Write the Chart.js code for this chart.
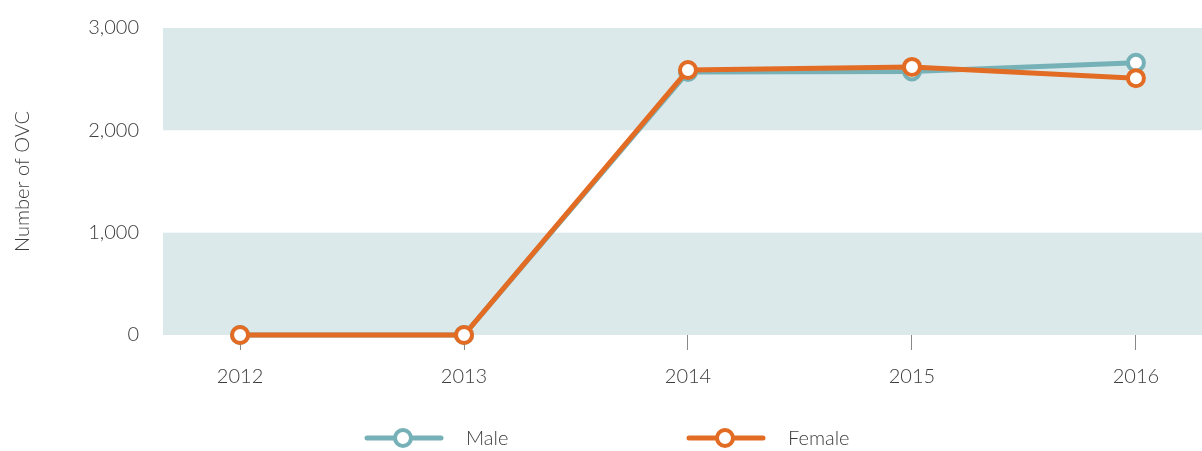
<!DOCTYPE html>
<html>
<head>
<meta charset="utf-8">
<script src="https://cdn.jsdelivr.net/npm/chart.js@4/dist/chart.umd.min.js"></script>
<style>
	html, body { margin: 0; padding: 0; background: #fff; }
	#wrap { width: 1202px; height: 451px; position: relative; }
</style>
</head>
<body>
<div id="wrap"><canvas id="ovcChart" width="1202" height="451"></canvas></div>
<script>
	const years = [2012, 2013, 2014, 2015, 2016];
	const maleValues = [0, 0, 2570, 2575, 2660];
	const femaleValues = [0, 0, 2590, 2620, 2510];
	const yTicks = [0, 1000, 2000, 3000];
	const seriesNames = ["Male", "Female"];

	const maleColor = "#76b1b8";
	const femaleColor = "#e36c24";
	const bandColor = "#dce9ea";
	const textColor = "#3c3c3c";
	const fontFamily = "Lato";

	// shaded bands 0-1000 and 2000-3000
	const bandsPlugin = {
		id: "bands",
		beforeDatasetsDraw(chart) {
			const { ctx, chartArea, scales } = chart;
			ctx.save();
			ctx.fillStyle = bandColor;
			for (let i = 0; i < yTicks.length - 1; i += 2) {
				const top = scales.y.getPixelForValue(yTicks[i + 1]);
				const bottom = scales.y.getPixelForValue(yTicks[i]);
				ctx.fillRect(chartArea.left, top, chartArea.right - chartArea.left, bottom - top);
			}
			ctx.restore();
		}
	};

	// legend drawn at the bottom
	const legendPlugin = {
		id: "bottomLegend",
		afterDraw(chart) {
			const { ctx } = chart;
			const items = [
				{ name: seriesNames[0], color: maleColor, x: 367 },
				{ name: seriesNames[1], color: femaleColor, x: 689 }
			];
			const y = 438;
			ctx.save();
			items.forEach(function (it) {
				ctx.strokeStyle = it.color;
				ctx.lineWidth = 5;
				ctx.lineCap = "round";
				ctx.beginPath();
				ctx.moveTo(it.x, y);
				ctx.lineTo(it.x + 74, y);
				ctx.stroke();
				ctx.beginPath();
				ctx.arc(it.x + 36, y, 8, 0, Math.PI * 2);
				ctx.fillStyle = "#fff";
				ctx.fill();
				ctx.lineWidth = 4;
				ctx.stroke();
				ctx.fillStyle = textColor;
				ctx.font = "300 20px " + fontFamily;
				ctx.textBaseline = "middle";
				ctx.fillText(it.name, it.x + 99, y + 1);
			});
			ctx.restore();
		}
	};

	const toPoints = (vals) => vals.map((v, i) => ({ x: years[i], y: v }));

	const ctx = document.getElementById("ovcChart");
	new Chart(ctx, {
		type: "line",
		data: {
			datasets: [{
				label: seriesNames[0],
				data: toPoints(maleValues),
				borderColor: maleColor,
				backgroundColor: "#ffffff",
				pointBackgroundColor: "#ffffff",
				pointBorderColor: maleColor,
				borderWidth: 5,
				pointRadius: 8,
				pointBorderWidth: 4,
				tension: 0,
				clip: false,
				order: 2
			},
			{
				label: seriesNames[1],
				data: toPoints(femaleValues),
				borderColor: femaleColor,
				backgroundColor: "#ffffff",
				pointBackgroundColor: "#ffffff",
				pointBorderColor: femaleColor,
				borderWidth: 5,
				pointRadius: 8,
				pointBorderWidth: 4,
				tension: 0,
				clip: false,
				order: 1
			}]
		},
		options: {
			responsive: false,
			animation: false,
			layout: { autoPadding: false, padding: { top: 28, right: 0, bottom: 51, left: 0 } },
			plugins: {
				legend: { display: false },
				tooltip: { enabled: false }
			},
			scales: {
				x: {
					type: "linear",
					min: 2011.656,
					max: 2016.295,
					border: { display: false },
					grid: {
						drawOnChartArea: false,
						drawTicks: true,
						tickLength: 15,
						color: "#888888",
						lineWidth: 1
					},
					ticks: {
						stepSize: 1,
						includeBounds: false,
						padding: 15,
						color: textColor,
						font: { family: fontFamily, size: 20, weight: 300 },
						callback: (v) => String(v)
					},
					afterFit: (scale) => { scale.height = 65; }
				},
				y: {
					min: 0,
					max: 3000,
					border: { display: false },
					grid: { display: false },
					ticks: {
						stepSize: 1000,
						padding: 16,
						color: textColor,
						font: { family: fontFamily, size: 20, weight: 300 },
						callback: (v) => v.toLocaleString("en-US")
					},
					title: {
						display: true,
						text: "Number of OVC",
						color: textColor,
						font: { family: fontFamily, size: 20, weight: 300 },
						padding: { top: 11, bottom: 0 }
					},
					afterFit: (scale) => { scale.width = 163; }
				}
			}
		},
		plugins: [bandsPlugin, legendPlugin]
	});
</script>
</body>
</html>
